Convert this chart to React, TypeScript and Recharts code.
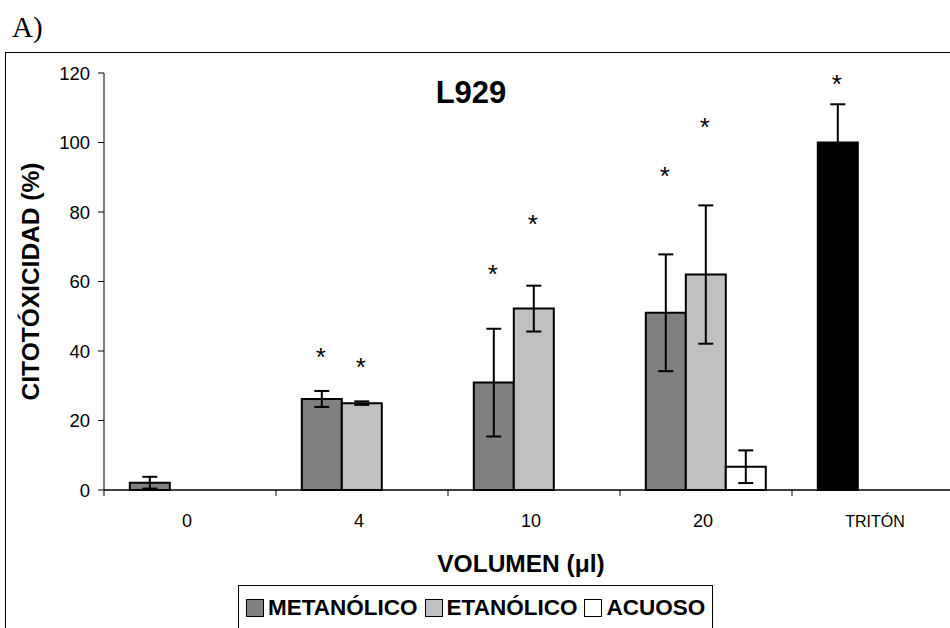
import React from "react";
import { BarChart, Bar, XAxis, YAxis, ErrorBar, LabelList, Label, Legend } from "recharts";

// valores (L929)
const categorias = ["0", "4", "10", "20", "TRITÓN"];
const metanolico = [2.1, 26.2, 30.9, 51.0, null];
const metanolicoErr = [1.7, 2.3, 15.5, 16.8, null];
const etanolico = [null, 25.0, 52.2, 62.0, null];
const etanolicoErr = [null, 0.5, 6.6, 19.9, null];
const acuoso = [null, null, null, 6.7, null];
const acuosoErr = [null, null, null, 4.7, null];
const triton = [null, null, null, null, 100];
const tritonErr = [null, null, null, null, 11];

// posición de los asteriscos (en % de citotoxicidad)
const metanolicoStar = [null, 39.7, 63.6, 91.8, null];
const etanolicoStar = [null, 36.8, 78.0, 105.9, null];
const tritonStar = [null, null, null, null, 118.5];

const yTicks = [0, 20, 40, 60, 80, 100, 120];

const SERIES = [
  { key: "met", name: "METANÓLICO", color: "#808080" },
  { key: "eta", name: "ETANÓLICO", color: "#c0c0c0" },
  { key: "acu", name: "ACUOSO", color: "#ffffff" },
];

const data = categorias.map((c, i) => ({
  cat: c,
  met: metanolico[i],
  metErr: metanolicoErr[i],
  metStar: metanolicoStar[i],
  eta: etanolico[i],
  etaErr: etanolicoErr[i],
  etaStar: etanolicoStar[i],
  acu: acuoso[i],
  acuErr: acuosoErr[i],
  tri: triton[i],
  triErr: tritonErr[i],
  triStar: tritonStar[i],
}));

const FONT = "'Liberation Sans', Arial, sans-serif";
const STAR_SIZE = 26;

// el valor de la etiqueta lleva [valor de la barra, posición del asterisco]
const starKey = (bar: string, star: string) => (d: any) =>
  d[bar] == null || d[star] == null ? null : [d[bar], d[star]];

// asterisco ubicado con la escala de la propia barra
const StarMark = (p: any) => {
  if (!Array.isArray(p.value)) return null;
  const [v, s] = p.value;
  const vb = p.viewBox || p;
  const k = vb.height / v;
  const cy = vb.y + vb.height - s * k;
  return (
    <text
      x={vb.x + vb.width / 2 - 1}
      y={cy + STAR_SIZE * 0.55}
      textAnchor="middle"
      fontSize={STAR_SIZE}
      fontFamily={FONT}
      fill="#000"
    >
      *
    </text>
  );
};

const XTick = (p: any) => {
  const band = typeof p.width === "number" && p.visibleTicksCount ? p.width / p.visibleTicksCount : 172;
  const left = p.x - band / 2;
  const label = String(p.payload.value);
  return (
    <g>
      <line x1={left} x2={left} y1={p.y} y2={p.y + 6} stroke="#000" strokeWidth={1} />
      <text
        x={p.x - 3}
        y={p.y + 37}
        textAnchor="middle"
        fontSize={label.length > 3 ? 16 : 18}
        fontFamily={FONT}
        fill="#000"
      >
        {label}
      </text>
    </g>
  );
};

const LegendBox = () => (
  <div
    style={{
      borderTop: "1.5px solid #000",
      borderLeft: "1.5px solid #000",
      borderRight: "1.5px solid #000",
      height: 60,
      boxSizing: "border-box",
      display: "flex",
      alignItems: "flex-start",
      paddingLeft: 7,
      paddingTop: 9,
      fontFamily: FONT,
      fontWeight: "bold",
      fontSize: 22.5,
      color: "#000",
      whiteSpace: "nowrap",
    }}
  >
    {SERIES.map((s) => (
      <span key={s.key} style={{ display: "flex", alignItems: "center", marginRight: 7 }}>
        <span
          style={{
            display: "inline-block",
            width: 16,
            height: 16,
            background: s.color,
            border: "1px solid #000",
            marginRight: 4,
          }}
        />
        {s.name}
      </span>
    ))}
  </div>
);

export default function App() {
  return (
    <div
      style={{
        position: "fixed",
        left: 0,
        top: 0,
        width: 950,
        height: 628,
        overflow: "hidden",
        background: "#fff",
        fontFamily: FONT,
      }}
    >
      <div
        style={{
          position: "absolute",
          left: 12,
          top: 10,
          fontFamily: "'Liberation Serif', 'Times New Roman', serif",
          fontSize: 29,
          lineHeight: "34px",
        }}
      >
        A)
      </div>
      <div
        style={{
          position: "absolute",
          left: 5,
          top: 52,
          width: 1000,
          height: 700,
          border: "1.5px solid #000",
          boxSizing: "border-box",
        }}
      />
      <div style={{ position: "absolute", left: 0, top: 0 }}>
        <BarChart
          width={980}
          height={628}
          data={data}
          margin={{ top: 73, right: 16, left: 0, bottom: 88 }}
          barCategoryGap="15%"
          barGap={0}
        >
          <XAxis
            dataKey="cat"
            height={50}
            interval={0}
            tickLine={false}
            tickSize={0}
            tickMargin={0}
            axisLine={{ stroke: "#000", strokeWidth: 1.5 }}
            tick={<XTick />}
          >
            <Label
              content={(p: any) => {
                const vb = p.viewBox;
                return (
                  <text
                    x={vb.x + vb.width / 2 - 13}
                    y={vb.y + 73}
                    textAnchor="middle"
                    dominantBaseline="central"
                    fontSize={24.5}
                    fontWeight="bold"
                    fontFamily={FONT}
                    fill="#000"
                  >
                    VOLUMEN (μl)
                  </text>
                );
              }}
            />
          </XAxis>
          <YAxis
            width={104}
            domain={[0, 120]}
            ticks={yTicks}
            interval={0}
            tickSize={6}
            tickMargin={8}
            axisLine={{ stroke: "#000" }}
            tickLine={{ stroke: "#000" }}
            tick={{ fontSize: 18.5, fill: "#000", fontFamily: FONT }}
          >
            <Label
              content={(p: any) => {
                const vb = p.viewBox;
                const cx = 30;
                const cy = vb.y + vb.height / 2;
                return (
                  <text
                    x={cx}
                    y={cy}
                    transform={`rotate(-90 ${cx} ${cy})`}
                    textAnchor="middle"
                    dominantBaseline="central"
                    fontSize={24.5}
                    fontWeight="bold"
                    fontFamily={FONT}
                    fill="#000"
                  >
                    CITOTÓXICIDAD (%)
                  </text>
                );
              }}
            />
          </YAxis>
          <Legend
            layout="vertical"
            align="center"
            verticalAlign="middle"
            wrapperStyle={{ left: 238, top: 585, width: 475, height: 60 }}
            content={LegendBox}
          />
          <Bar dataKey="met" name="METANÓLICO" stackId="a" fill="#808080" stroke="#000" strokeWidth={2} isAnimationActive={false}>
            <ErrorBar dataKey="metErr" width={7.5} stroke="#000" strokeWidth={2} isAnimationActive={false} />
            <LabelList dataKey={starKey("met", "metStar")} content={<StarMark />} />
          </Bar>
          <Bar dataKey="tri" name="TRITÓN" stackId="a" fill="#000" stroke="#000" strokeWidth={2} isAnimationActive={false}>
            <ErrorBar dataKey="triErr" width={7.5} stroke="#000" strokeWidth={2} isAnimationActive={false} />
            <LabelList dataKey={starKey("tri", "triStar")} content={<StarMark />} />
          </Bar>
          <Bar dataKey="eta" name="ETANÓLICO" fill="#c0c0c0" stroke="#000" strokeWidth={2} isAnimationActive={false}>
            <ErrorBar dataKey="etaErr" width={7.5} stroke="#000" strokeWidth={2} isAnimationActive={false} />
            <LabelList dataKey={starKey("eta", "etaStar")} content={<StarMark />} />
          </Bar>
          <Bar dataKey="acu" name="ACUOSO" fill="#ffffff" stroke="#000" strokeWidth={2} isAnimationActive={false}>
            <ErrorBar dataKey="acuErr" width={7.5} stroke="#000" strokeWidth={2} isAnimationActive={false} />
          </Bar>
        </BarChart>
      </div>
      <div
        style={{
          position: "absolute",
          left: 371,
          top: 74,
          width: 200,
          textAlign: "center",
          fontWeight: "bold",
          fontSize: 31,
          lineHeight: "38px",
          color: "#000",
        }}
      >
        L929
      </div>
    </div>
  );
}
